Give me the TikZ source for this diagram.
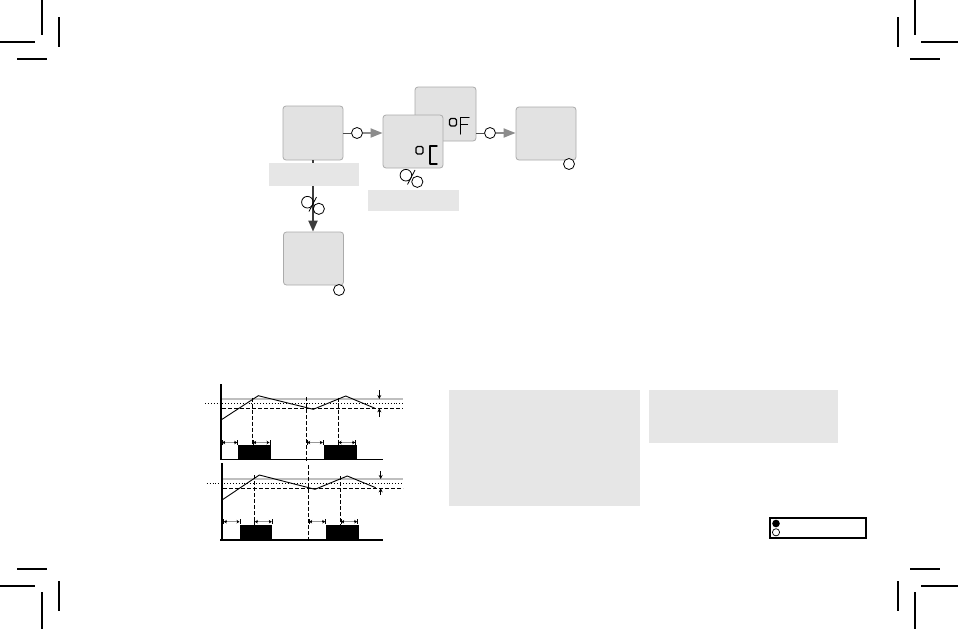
\documentclass[tikz,border=0pt]{standalone}
\usetikzlibrary{arrows.meta,calc}
\definecolor{boxfill}{HTML}{E2E2E2}
\definecolor{boxline}{HTML}{ABABAB}
\definecolor{barfill}{HTML}{E6E6E6}
\definecolor{darr}{HTML}{3C3C3C}
\definecolor{garr}{HTML}{8C8C8C}
\begin{document}
\begin{tikzpicture}[x=1pt,y=-1pt,
  dispbox/.style={draw=boxline, fill=boxfill, rounded corners=3pt, minimum width=60pt, minimum height=53pt, line width=0.8pt, inner sep=0pt},
  labelbar/.style={fill=barfill, inner sep=0pt},
  btn/.style={circle, draw=black, fill=white, line width=0.8pt, minimum size=11pt, inner sep=0pt},
  crop/.style={line width=1.3pt},
  seg/.style={line width=1.4pt, line cap=round, line join=round},
  garrow/.style={draw=garr, line width=1.8pt, -{Triangle[length=12pt,width=9pt]}},
  darrow/.style={draw=darr, line width=2pt, -{Triangle[length=11pt,width=9pt]}},
  conn/.style={draw=black!70, line width=0.8pt},
  axisline/.style={line width=2pt},
  baseline/.style={line width=1.2pt},
  setline/.style={draw=black!25, line width=1.5pt},
  dotline/.style={dotted, line width=0.9pt},
  dashline/.style={dash pattern=on 4pt off 2pt, line width=0.9pt},
  wave/.style={line width=0.9pt},
  tline/.style={|<->|, >={Stealth[length=3pt,width=3.5pt]}, line width=0.5pt},
  tshaft/.style={draw=black!40, line width=0.9pt},
  harrow/.style={line width=0.7pt, -{Stealth[length=4pt,width=4pt]}},
  press/.pic={
    \draw[line width=0.8pt] (-5.6,-3.3) circle[radius=5.8pt];
    \draw[line width=0.8pt] (5.8,3.3) circle[radius=5.6pt];
    \draw[line width=0.8pt] (3.5,-8.5) -- (-4,6);
  }]
\useasboundingbox (0,0) rectangle (958,629);
\fill[white] (0,0) rectangle (958,629);

% crop marks
\draw[crop] (42,0) -- (42,35); \draw[crop] (0,42) -- (35,42);
\draw[crop] (59,17) -- (59,47); \draw[crop] (17,59) -- (47,59);
\draw[crop] (915,0) -- (915,35); \draw[crop] (921,42) -- (958,42);
\draw[crop] (898,17) -- (898,47); \draw[crop] (910,59) -- (940,59);
\draw[crop] (17,569) -- (47,569); \draw[crop] (0,586) -- (35,586);
\draw[crop] (59,581) -- (59,611); \draw[crop] (42,592) -- (42,629);
\draw[crop] (910,569) -- (940,569); \draw[crop] (921,586) -- (958,586);
\draw[crop] (898,581) -- (898,611); \draw[crop] (915,592) -- (915,629);

% ---- flow diagram ----
\node[dispbox, minimum height=54pt] (b1) at (313,133) {};
\node[dispbox] (b2) at (313.5,258.5) {};
\node[dispbox, minimum width=61pt, minimum height=54pt] (b4) at (445.5,114) {};
\node[dispbox] (b3) at (413,141.5) {};
\node[dispbox] (b5) at (546,133.5) {};

\draw[darrow] (b1.south) -- (b1.south |- b2.north);
\node[labelbar, minimum width=90pt, minimum height=23pt] (bar1) at (314,174.5) {};
\node[labelbar, minimum width=91pt, minimum height=21pt] (bar3) at (413.5,200.5) {};

\node[btn] (c1) at (357,133) {};
\node[btn] (c2) at (490,133) {};
\node[btn] (c3) at (339,290) {};
\node[btn] (c4) at (569,164) {};

\draw[conn] (b1.east) -- (c1.west);
\draw[garrow] (c1.east) -- (c1.east -| b3.west);
\draw[conn] (b4.east |- c2) -- (c2.west);
\draw[garrow] (c2.east) -- (c2.east -| b5.west);

\pic at (411.5,178.5) {press};
\pic at (313,205.5) {press};

% degree C glyphs (in b3)
\draw[seg, rounded corners=1.5pt] (416,146.5) rectangle (423,154);
\draw[seg] (437,146) -- (430,146) -- (430,164) -- (437,164);
% degree F glyphs (in b4)
\draw[seg, rounded corners=1.5pt] (449.5,118.5) rectangle (456.5,126);
\draw[seg] (469,117.5) -- (460.5,117.5) -- (460.5,134);
\draw[seg] (460.5,124.5) -- (467.5,124.5);

% ---- graph 1 ----
\draw[setline] (222,399) -- (403,399);
\draw[dotline] (205,403.5) -- (403,403.5);
\draw[dashline] (222,408.3) -- (403,408.3);
\draw[dashline] (252.7,397.7) -- (252.7,459.5);
\draw[dashline] (306.3,397) -- (306.3,462);
\draw[dashline] (338,397.7) -- (338,459.5);
\draw[wave] (221,420) -- (258.3,395.7) -- (313.3,409.3) -- (345.7,396) -- (375,408.3);
\fill (238.3,445) rectangle (270.7,459.5);
\fill (324.3,445) rectangle (356.7,459.5);
\foreach \a/\b in {221.7/237.7, 252.7/270, 306.7/323.3, 338/355.7}{
  \draw[tline] (\a,442.5) -- (\b,442.5);
  \draw[tshaft] (\a+3.5,442.5) -- (\b-3.5,442.5);
}
\draw[harrow] (379.3,390) -- (379.3,399);
\draw[harrow] (379.3,417) -- (379.3,408.3);
\draw[axisline] (221,384) -- (221,460);
\draw[baseline] (220,459.5) -- (383,459.5);

% ---- graph 2 ----
\draw[setline] (223,479) -- (403,479);
\draw[dotline] (206.7,483.3) -- (403,483.3);
\draw[dashline] (223,488.3) -- (403,488.3);
\draw[dashline] (254.3,475) -- (254.3,540);
\draw[dashline] (308.7,465) -- (308.7,540);
\draw[dashline] (340.7,476) -- (340.7,540);
\draw[wave] (222,500) -- (259.3,475) -- (315,489.3) -- (347.3,476) -- (375.7,487.7);
\fill (240,525) rectangle (272.3,540);
\fill (326,525) rectangle (359,540);
\foreach \a/\b in {223.3/240, 254.3/272.3, 308.7/325.7, 340.7/357.7}{
  \draw[tline] (\a,521.7) -- (\b,521.7);
  \draw[tshaft] (\a+3.5,521.7) -- (\b-3.5,521.7);
}
\draw[harrow] (380.7,471) -- (380.7,479);
\draw[harrow] (380.7,495) -- (380.7,488.3);
\draw[axisline] (222,463) -- (222,540.5);
\draw[baseline] (220,540) -- (383,540);

% ---- gray text boxes ----
\node[labelbar, minimum width=191pt, minimum height=116pt] (ta) at (544.5,448) {};
\node[labelbar, minimum width=189pt, minimum height=53pt] (tb) at (743.5,416.5) {};

% ---- legend ----
\node[draw, line width=1.2pt, minimum width=96pt, minimum height=20pt, inner sep=0pt] (leg) at (818,528) {};
\fill (776,523.5) circle[radius=3.8pt];
\draw[line width=0.7pt] (776,532.3) circle[radius=3.6pt];
\end{tikzpicture}
\end{document}
